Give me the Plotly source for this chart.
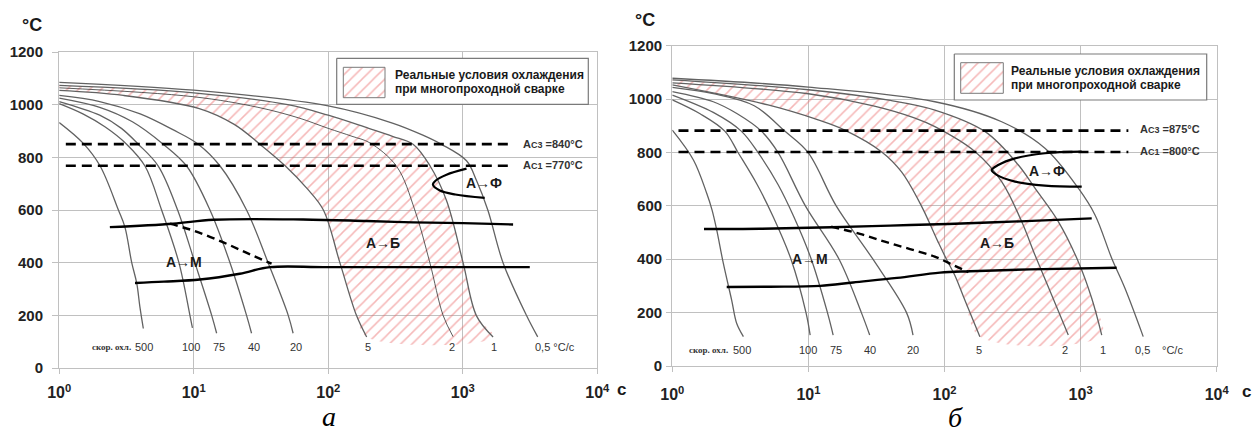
import plotly.graph_objects as go

W, H = 1253, 432
FONT = "Arial, 'Liberation Sans', sans-serif"

# ================= Panel а (data) =================
a_ac3, a_ac1 = 850, 768
a_ac_t = [1.12, 2300]

a500_t = [1.0, 1.51, 2.01, 2.75, 3.08, 3.46, 3.77, 3.98, 4.22]
a500_T = [932, 853, 768, 601, 535, 400, 322, 232, 150]
a100_t = [1, 1.5, 2.2, 3.17, 4.34, 5.77, 7.76, 9.37, 9.78]
a100_T = [1004, 965, 915, 850, 767, 600, 400, 200, 152]
a75_t = [1, 2.0, 2.9, 3.87, 5.45, 7.59, 10.2, 13.6, 14.8]
a75_T = [1012, 960, 910, 850, 767, 600, 400, 200, 132]
a40_t = [1, 2, 3.5, 5.93, 8.85, 13.2, 18.6, 24.7, 26.9]
a40_T = [1025, 990, 935, 850, 767, 600, 400, 200, 132]
a20_t = [1, 2, 4, 7, 10.8, 15.7, 24.7, 35.7, 50.4, 54.8]
a20_T = [1035, 1012, 965, 905, 850, 767, 600, 400, 200, 132]
a5_t = [1, 3, 11, 20, 31, 48, 70, 92, 122, 162, 193]
a5_T = [1054, 1035, 985, 925, 850, 767, 680, 600, 400, 200, 118]
a2_t = [1, 10, 30, 60, 100, 150, 204, 322, 440, 569, 714, 847]
a2_T = [1064, 1030, 990, 950, 910, 880, 855, 766, 600, 400, 200, 119]
a1_t = [1, 10, 50, 100, 200, 300, 427, 572, 757, 1005, 1265, 1680]
a1_T = [1073, 1045, 1000, 960, 910, 880, 850, 767, 636, 400, 198, 118]
a05_t = [1, 10, 100, 300, 500, 690, 1066, 1265, 1535, 1991, 2972, 3606]
a05_T = [1085, 1055, 995, 930, 885, 850, 787, 712, 600, 400, 200, 118]

a_bs_t = [2.38, 7.04, 14.0, 65.1, 193, 427, 1005, 2366]
a_bs_T = [535, 548, 563, 564, 558, 553, 550, 545]
a_msd_t = [6.66, 10.2, 16.1, 24.8, 37.9]
a_msd_T = [548, 520, 480, 437, 396]
a_ms_t = [3.66, 6.0, 11.1, 22.0, 36.8, 100, 3148]
a_ms_T = [323, 328, 336, 358, 383, 383, 383]
a_fer_t = [1066, 757, 630, 600, 675, 880, 1456]
a_fer_T = [757, 734, 712, 696, 674, 659, 646]

# ================= Panel б (data) =================
b_ac3, b_ac1 = 882, 802
b_ac_t = [1.11, 2243]

b500_t = [1, 1.43, 1.79, 1.96, 2.12, 2.37, 2.73, 2.97, 3.33]
b500_T = [884, 772, 647, 584, 510, 385, 247, 160, 110]
b100_t = [1, 1.6, 2.43, 3.04, 4.2, 5.5, 7.45, 9.6, 10.3]
b100_T = [997, 945, 880, 800, 680, 560, 400, 200, 116]
b75_t = [1, 2, 3.21, 4.26, 5.98, 7.8, 10.5, 13.8, 15.2]
b75_T = [1015, 950, 880, 800, 680, 560, 400, 200, 116]
b40_t = [1, 2, 3, 4.51, 5.98, 9.5, 16.8, 24.5, 28.2]
b40_T = [1028, 990, 945, 880, 800, 600, 400, 200, 116]
b20_t = [1, 2, 4, 6.7, 9.93, 16, 29.8, 52.6, 58.7]
b20_T = [1044, 1020, 975, 880, 800, 600, 400, 200, 116]
b5_t = [1, 5.05, 11.8, 18.5, 34.4, 48.2, 67.6, 89.5, 104, 119, 141, 182]
b5_T = [1053, 978, 922, 884, 803, 728, 600, 466, 397, 340, 247, 110]
b2_t = [1, 10, 30, 60, 85, 168, 263, 369, 462, 613, 812]
b2_T = [1061, 1020, 975, 930, 897, 803, 691, 541, 416, 266, 116]
b1_t = [1, 10, 40, 85, 199, 349, 462, 686, 962, 1207, 1430]
b1_T = [1072, 1035, 995, 959, 878, 753, 666, 541, 391, 254, 116]
b05_t = [1, 10, 85, 263, 547, 962, 1276, 1692, 2118, 2884]
b05_T = [1078, 1045, 990, 915, 816, 666, 566, 404, 291, 110]

b_bs_t = [1.71, 4.41, 14.8, 39.8, 106, 359, 1207]
b_bs_T = [513, 514, 520, 526, 532, 542, 553]
b_msd_t = [14.7, 23.9, 36.4, 55.8, 84.7, 119, 150]
b_msd_T = [522, 495, 466, 438, 410, 375, 352]
b_ms_t = [2.51, 5.22, 12.2, 21.3, 44.8, 92.7, 154, 425, 1841]
b_ms_T = [296, 297, 300, 313, 330, 350, 355, 362, 368]
b_fer_t = [1019, 547, 330, 248, 222, 242, 330, 547, 1019]
b_fer_T = [803, 797, 778, 753, 734, 716, 691, 676, 672]

x_ticks = [1, 10, 100, 1000, 10000]
x_ticktext = ["10<sup>0</sup>", "10<sup>1</sup>", "10<sup>2</sup>", "10<sup>3</sup>", "10<sup>4</sup>"]
y_ticks = [0, 200, 400, 600, 800, 1000, 1200]

legend_line1 = "Реальные условия охлаждения"
legend_line2 = "при многопроходной сварке"

# ================= Figure =================
fig = go.Figure()
GRAY = "#626262"
HATCH = dict(shape="/", fgcolor="#ec7272", bgcolor="rgba(0,0,0,0)", size=8, solidity=0.19)


def line(t, T, xa, ya, color=GRAY, width=1.3, dash=None, shape="spline"):
    fig.add_trace(go.Scatter(x=t, y=T, xaxis=xa, yaxis=ya, mode="lines",
                             line=dict(color=color, width=width, dash=dash, shape=shape),
                             hoverinfo="skip", showlegend=False))


def hatch(lo_t, lo_T, hi_t, hi_T, xa, ya):
    fig.add_trace(go.Scatter(x=lo_t + hi_t[::-1], y=lo_T + hi_T[::-1], xaxis=xa, yaxis=ya,
                             mode="lines", line=dict(width=0, shape="spline"),
                             fill="toself", fillcolor="rgba(0,0,0,0)", fillpattern=HATCH,
                             hoverinfo="skip", showlegend=False))


def panel(xa, ya, ac3, ac1, ac_t, curves, thin, bs, msd, ms, fer, lo, hi):
    hatch(lo[0], lo[1], hi[0], hi[1], xa, ya)
    for (t, T) in curves:
        line(t, T, xa, ya)
    line(thin[0], thin[1], xa, ya, color=thin[2], width=thin[3])
    line(ac_t, [ac3, ac3], xa, ya, color="black", width=2.6, dash="10px,6px", shape="linear")
    line(ac_t, [ac1, ac1], xa, ya, color="black", width=2.6, dash="10px,6px", shape="linear")
    line(bs[0], bs[1], xa, ya, color="black", width=2.4)
    line(msd[0], msd[1], xa, ya, color="black", width=2.4, dash="8px,5px")
    line(ms[0], ms[1], xa, ya, color="black", width=2.4)
    line(fer[0], fer[1], xa, ya, color="black", width=2.2)


panel("x", "y", a_ac3, a_ac1, a_ac_t,
      [(a500_t, a500_T), (a100_t, a100_T), (a75_t, a75_T), (a40_t, a40_T), (a20_t, a20_T),
       (a5_t, a5_T), (a1_t, a1_T), (a05_t, a05_T)],
      (a2_t, a2_T, "#333333", 0.8),
      (a_bs_t, a_bs_T), (a_msd_t, a_msd_T), (a_ms_t, a_ms_T), (a_fer_t, a_fer_T),
      (a5_t, a5_T), (a1_t, a1_T))
panel("x2", "y2", b_ac3, b_ac1, b_ac_t,
      [(b500_t, b500_T), (b100_t, b100_T), (b75_t, b75_T), (b40_t, b40_T), (b20_t, b20_T),
       (b5_t, b5_T), (b1_t, b1_T), (b05_t, b05_T)],
      (b2_t, b2_T, GRAY, 1.3),
      (b_bs_t, b_bs_T), (b_msd_t, b_msd_T), (b_ms_t, b_ms_T), (b_fer_t, b_fer_T),
      (b5_t, b5_T), (b1_t, b1_T))


# ---- legend boxes drawn in a pixel-space overlay axis ----
def legend_box(x0, y0, x1, y1, sx0, sy0, sx1, sy1):
    fig.add_trace(go.Scatter(x=[x0, x1, x1, x0, x0], y=[y0, y0, y1, y1, y0], xaxis="x3", yaxis="y3",
                             mode="lines", line=dict(color="#7a7a7a", width=1.2),
                             fill="toself", fillcolor="white", hoverinfo="skip", showlegend=False))
    fig.add_trace(go.Scatter(x=[sx0, sx1, sx1, sx0, sx0], y=[sy0, sy0, sy1, sy1, sy0], xaxis="x3", yaxis="y3",
                             mode="lines", line=dict(color="#7a7a7a", width=1),
                             fill="toself", fillcolor="rgba(0,0,0,0)", fillpattern=HATCH,
                             hoverinfo="skip", showlegend=False))


legend_box(336.7, 58.3, 588.3, 104.3, 343.3, 67.3, 385, 97.7)
legend_box(954.3, 54, 1206.7, 100, 960.7, 62.7, 1003.3, 93.3)

# ---- axes ----
GRID = "#c0c0c0"


def xax(dom, anchor, standoff):
    return dict(domain=dom, anchor=anchor, type="log", range=[0, 4], tickvals=x_ticks, ticktext=x_ticktext,
                showgrid=True, gridcolor=GRID, gridwidth=1.3, showline=True, mirror=True, linecolor=GRID,
                linewidth=1.3, ticks="outside", ticklen=5, tickcolor=GRID, ticklabelstandoff=standoff,
                tickfont=dict(family=FONT, size=16, color="#222", weight="bold"), zeroline=False,
                automargin=False)


def yax(dom, anchor, standoff, ticklen):
    return dict(domain=dom, anchor=anchor, range=[0, 1200], tickvals=y_ticks,
                showgrid=True, gridcolor=GRID, gridwidth=1.3, showline=True, mirror=True, linecolor=GRID,
                linewidth=1.3, ticks="outside", ticklen=ticklen, tickcolor=GRID, ticklabelstandoff=standoff,
                tickfont=dict(family=FONT, size=15, color="#222", weight="bold"), zeroline=False,
                automargin=False)


fig.update_layout(
    width=W, height=H, margin=dict(l=0, r=0, t=0, b=0, autoexpand=False),
    paper_bgcolor="white", plot_bgcolor="rgba(0,0,0,0)", showlegend=False,
    xaxis=xax([59.2 / W, 597.3 / W], "y", 5),
    yaxis=yax([1 - 368 / H, 1 - 52 / H], "x", 6, 6),
    xaxis2=xax([672.3 / W, 1216.7 / W], "y2", 9),
    yaxis2=yax([1 - 366 / H, 1 - 45.7 / H], "x2", 1, 5),
    xaxis3=dict(domain=[0, 1], range=[0, W], visible=False, anchor="y3", automargin=False),
    yaxis3=dict(domain=[0, 1], range=[H, 0], visible=False, anchor="x3", automargin=False),
)


# ---- text ----
def txt(x, y, s, size=12, bold=True, xanchor="center", color="#1a1a1a", family=FONT, italic=False):
    if bold:
        s = "<b>" + s + "</b>"
    if italic:
        s = "<i>" + s + "</i>"
    fig.add_annotation(x=x / W, y=1 - y / H, xref="paper", yref="paper", text=s, showarrow=False,
                       xanchor=xanchor, yanchor="middle", font=dict(family=family, size=size, color=color))


SMALL = "<span style='font-size:9px'>C%s</span>"
SERIF = "'Liberation Serif', 'Times New Roman', serif"

# panel а texts
txt(32, 25, "°C", size=18)
txt(184, 262, "А→М", size=14)
txt(383, 243, "А→Б", size=14)
txt(484, 183, "А→Ф", size=14)
txt(521, 144, "A" + SMALL % "3" + " =840°C", size=11, xanchor="left", color="#333")
txt(521, 165, "A" + SMALL % "1" + " =770°C", size=11, xanchor="left", color="#333")
txt(133, 347, "скор. охл.", size=9, xanchor="right", family=SERIF, color="#333")
for s, xx in [("500", 144), ("100", 191), ("75", 219), ("40", 254), ("20", 296),
              ("5", 368), ("2", 452), ("1", 494)]:
    txt(xx, 347, s, size=11, bold=False, color="#333")
txt(533, 347, "0,5 °C/с", size=11, bold=False, xanchor="left", color="#333")
txt(621, 389, "с", size=17)
txt(329, 416, "а", size=28, bold=False, italic=True, family=SERIF, color="black")
txt(392.7, 75, legend_line1, size=12, xanchor="left")
txt(392.7, 89.3, legend_line2, size=12, xanchor="left")

# panel б texts
txt(645, 20, "°C", size=18)
txt(810, 259, "А→М", size=14)
txt(997, 243, "А→Б", size=14)
txt(1047, 171, "А→Ф", size=14)
txt(1138, 129, "A" + SMALL % "3" + " =875°C", size=11, xanchor="left", color="#333")
txt(1138, 151, "A" + SMALL % "1" + " =800°C", size=11, xanchor="left", color="#333")
txt(730, 350, "скор. охл.", size=9, xanchor="right", family=SERIF, color="#333")
for s, xx in [("500", 742), ("100", 808), ("75", 836), ("40", 870), ("20", 913),
              ("5", 979), ("2", 1065), ("1", 1103), ("0,5", 1142), ("°C/с", 1172)]:
    txt(xx, 350, s, size=11, bold=False, color="#333")
txt(1246, 391, "с", size=17)
txt(955, 417, "б", size=28, bold=False, italic=True, family=SERIF, color="black")
txt(1009.3, 70.7, legend_line1, size=12, xanchor="left")
txt(1009.3, 85, legend_line2, size=12, xanchor="left")

fig.write_html("out.html", config={"displayModeBar": False},
               post_script="document.body.style.margin='0px';document.body.style.overflow='hidden';")
